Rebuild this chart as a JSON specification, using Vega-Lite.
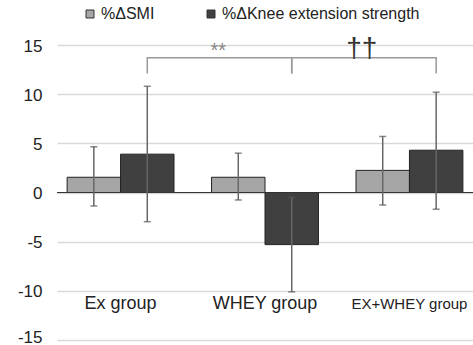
{
  "$schema": "https://vega.github.io/schema/vega-lite/v6.json",
  "width": 416,
  "height": 295,
  "autosize": {"type": "none"},
  "padding": {"left": 57, "top": 45, "right": 0, "bottom": 5},
  "background": "white",
  "config": {"view": {"stroke": null}, "font": "Liberation Sans"},
  "datasets": {
    "bars": [
      {"group": "Ex group", "series": "%ΔSMI", "value": 1.55, "low": -1.37, "high": 4.65},
      {"group": "Ex group", "series": "%ΔKnee extension strength", "value": 3.9, "low": -2.97, "high": 10.8},
      {"group": "WHEY group", "series": "%ΔSMI", "value": 1.55, "low": -0.76, "high": 4.0},
      {"group": "WHEY group", "series": "%ΔKnee extension strength", "value": -5.3, "low": -10.1, "high": -0.5},
      {"group": "EX+WHEY group", "series": "%ΔSMI", "value": 2.25, "low": -1.27, "high": 5.7},
      {"group": "EX+WHEY group", "series": "%ΔKnee extension strength", "value": 4.3, "low": -1.7, "high": 10.2}
    ],
    "brackets": [
      {"bracket": "a", "group": "Ex group", "series": "%ΔKnee extension strength", "y": 12.1, "order": 1},
      {"bracket": "a", "group": "Ex group", "series": "%ΔKnee extension strength", "y": 13.7, "order": 2},
      {"bracket": "a", "group": "WHEY group", "series": "%ΔKnee extension strength", "y": 13.7, "order": 3},
      {"bracket": "a", "group": "WHEY group", "series": "%ΔKnee extension strength", "y": 12.1, "order": 4},
      {"bracket": "b", "group": "WHEY group", "series": "%ΔKnee extension strength", "y": 12.1, "order": 1},
      {"bracket": "b", "group": "WHEY group", "series": "%ΔKnee extension strength", "y": 13.7, "order": 2},
      {"bracket": "b", "group": "EX+WHEY group", "series": "%ΔKnee extension strength", "y": 13.7, "order": 3},
      {"bracket": "b", "group": "EX+WHEY group", "series": "%ΔKnee extension strength", "y": 12.1, "order": 4}
    ],
    "stars": [
      {"group": "WHEY group", "series": "%ΔSMI", "y": 13.8, "label": "**"}
    ],
    "daggers": [
      {"group": "EX+WHEY group", "series": "%ΔSMI", "y": 13.75, "label": "††"}
    ]
  },
  "layer": [
    {
      "data": {"name": "bars"},
      "mark": {"type": "bar", "stroke": "#222222", "strokeWidth": 1},
      "encoding": {
        "x": {
          "field": "group", "type": "nominal",
          "scale": {"domain": ["Ex group", "WHEY group", "EX+WHEY group"], "paddingInner": 0.26, "paddingOuter": 0.07},
          "axis": {
            "title": null, "domain": false, "ticks": false, "grid": false, "labelAngle": 0,
            "labelColor": "#222222", "labelBaseline": "middle", "labelPadding": -37,
            "labelFontSize": {"condition": {"test": "datum.value === 'EX+WHEY group'", "value": 15}, "value": 18}
          }
        },
        "xOffset": {
          "field": "series", "type": "nominal",
          "scale": {"domain": ["%ΔSMI", "%ΔKnee extension strength"], "paddingInner": 0, "paddingOuter": 0}
        },
        "y": {
          "field": "value", "type": "quantitative",
          "scale": {"domain": [-15, 15], "nice": false},
          "axis": {
            "title": null, "domain": false, "ticks": false, "grid": true,
            "gridColor": "#d9d9d9", "gridWidth": 1.3,
            "values": [-15, -10, -5, 0, 5, 10, 15],
            "labelExpr": "'' + datum.value",
            "labelFontSize": 17, "labelColor": "#222222", "labelPadding": 15,
            "labelOffset": {"condition": {"test": "datum.value === -15", "value": -3}, "value": 1}
          }
        },
        "color": {
          "field": "series", "type": "nominal",
          "scale": {"domain": ["%ΔSMI", "%ΔKnee extension strength"], "range": ["#a6a6a6", "#404040"]},
          "legend": {
            "orient": "none", "legendX": 25, "legendY": -39, "direction": "horizontal",
            "title": null, "symbolType": "square", "symbolSize": 64,
            "symbolStrokeColor": "#333333", "symbolStrokeWidth": 1,
            "labelFontSize": 16, "labelColor": "#222222", "columnPadding": 48,
            "labelOffset": 3, "padding": 0, "labelLimit": 400
          }
        }
      }
    },
    {
      "data": {"name": "bars"},
      "mark": {"type": "rule", "color": "#333333", "strokeWidth": 1},
      "encoding": {"y": {"datum": 0}}
    },
    {
      "data": {"name": "bars"},
      "mark": {"type": "rule", "color": "#666666", "strokeWidth": 1.5},
      "encoding": {
        "x": {"field": "group", "type": "nominal"},
        "xOffset": {"field": "series", "type": "nominal"},
        "y": {"field": "low", "type": "quantitative"},
        "y2": {"field": "high"}
      }
    },
    {
      "data": {"name": "bars"},
      "mark": {"type": "tick", "color": "#555555", "size": 7, "thickness": 1.5},
      "encoding": {
        "x": {"field": "group", "type": "nominal"},
        "xOffset": {"field": "series", "type": "nominal"},
        "y": {"field": "low", "type": "quantitative"}
      }
    },
    {
      "data": {"name": "bars"},
      "mark": {"type": "tick", "color": "#555555", "size": 7, "thickness": 1.5},
      "encoding": {
        "x": {"field": "group", "type": "nominal"},
        "xOffset": {"field": "series", "type": "nominal"},
        "y": {"field": "high", "type": "quantitative"}
      }
    },
    {
      "data": {"name": "brackets"},
      "mark": {"type": "line", "color": "#999999", "strokeWidth": 1.5},
      "encoding": {
        "x": {"field": "group", "type": "nominal"},
        "xOffset": {"field": "series", "type": "nominal"},
        "y": {"field": "y", "type": "quantitative"},
        "detail": {"field": "bracket"},
        "order": {"field": "order"}
      }
    },
    {
      "data": {"name": "stars"},
      "mark": {"type": "text", "color": "#888888", "fontSize": 20, "dx": -20, "baseline": "alphabetic"},
      "encoding": {
        "x": {"field": "group", "type": "nominal"},
        "xOffset": {"field": "series", "type": "nominal"},
        "y": {"field": "y", "type": "quantitative"},
        "text": {"field": "label"}
      }
    },
    {
      "data": {"name": "daggers"},
      "mark": {"type": "text", "color": "#333333", "fontSize": 28, "dx": -21, "baseline": "alphabetic"},
      "encoding": {
        "x": {"field": "group", "type": "nominal"},
        "xOffset": {"field": "series", "type": "nominal"},
        "y": {"field": "y", "type": "quantitative"},
        "text": {"field": "label"}
      }
    }
  ]
}
